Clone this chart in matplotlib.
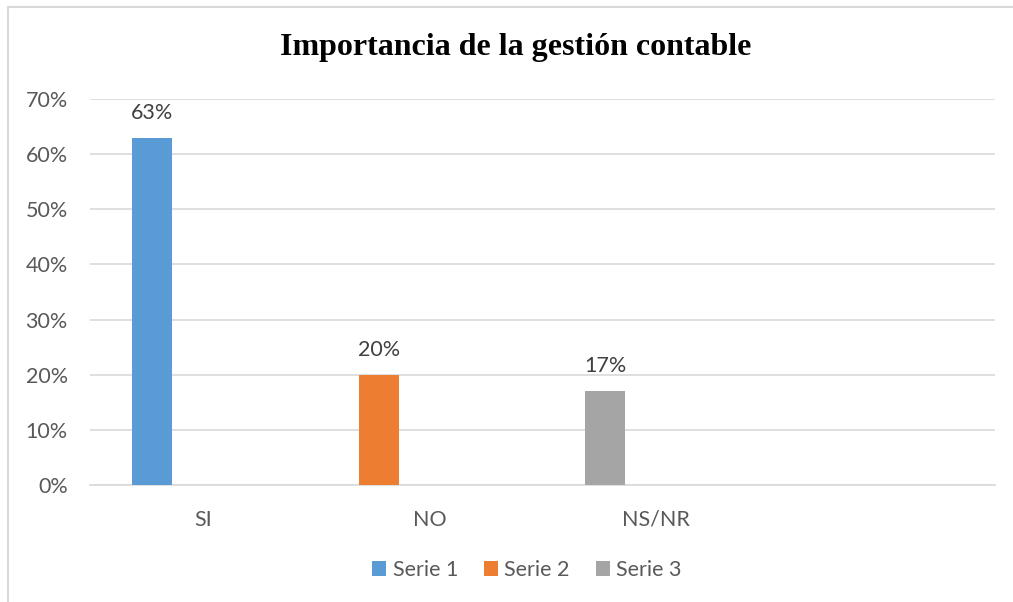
import matplotlib
matplotlib.use("Agg")
import matplotlib.pyplot as plt
from matplotlib.lines import Line2D
from matplotlib.patches import Patch

categories = ["SI", "NO", "NS/NR", ""]
series_names = ["Serie 1", "Serie 2", "Serie 3"]
series_cat = [0, 1, 2]
series_values = [0.63, 0.20, 0.17]
series_labels = ["63%", "20%", "17%"]
colors = ["#5B9BD5", "#ED7D31", "#A5A5A5"]
yticks = [0, 0.1, 0.2, 0.3, 0.4, 0.5, 0.6, 0.7]
ytick_labels = ["0%", "10%", "20%", "30%", "40%", "50%", "60%", "70%"]
title = "Importancia de la gestión contable"

W, H = 1013, 602
fig = plt.figure(figsize=(W / 100, H / 100), dpi=100)
txt = "#595959"
font = "Lato"
fs = 15.5

# chart border (left and top visible)
fig.lines.append(Line2D([8 / W, 8 / W], [0, 1 - 7 / H], transform=fig.transFigure,
                        color="#D9D9D9", linewidth=1.5))
fig.lines.append(Line2D([8 / W, 1012 / W], [1 - 7 / H, 1 - 7 / H], transform=fig.transFigure,
                        color="#D9D9D9", linewidth=1.5))

ax = fig.add_axes([90 / W, 1 - 485 / H, (995 - 90) / W, (485 - 99) / H])
ax.set_xlim(-0.5, 3.5)
ax.set_ylim(0, 0.7)

bw = 40 / 226.25
off = -0.224
for i in range(3):
    x = series_cat[i] + off
    ax.bar(x, series_values[i], width=bw, color=colors[i], zorder=3)
    ax.annotate(series_labels[i], (x, series_values[i]), xytext=(0, 25), textcoords="offset pixels",
                ha="center", va="center", fontsize=fs, color="#404040", family=font)

ax.set_yticks(yticks)
ax.set_yticklabels(ytick_labels, fontsize=fs, color=txt, family=font)
ax.set_xticks(range(4))
ax.set_xticklabels(categories, fontsize=fs, color=txt, family=font)
ax.tick_params(axis="y", length=0, pad=16)
ax.tick_params(axis="x", length=0, pad=18)
ax.grid(axis="y", color="#D9D9D9", linewidth=1.2, zorder=0)
for s in ["top", "right", "left"]:
    ax.spines[s].set_visible(False)
ax.spines["bottom"].set_color("#D9D9D9")
ax.spines["bottom"].set_linewidth(1.2)

fig.text(516 / W, 1 - 48 / H, title, ha="center", va="center", fontsize=23,
         fontweight="bold", family="Liberation Serif", color="black")

handles = [Patch(facecolor=c, edgecolor="none") for c in colors]
fig.legend(handles, series_names, loc="center", bbox_to_anchor=(527 / W, 1 - 570 / H), ncol=3,
           frameon=False, prop={"family": font, "size": fs}, labelcolor=txt,
           handlelength=0.65, handleheight=0.65, handletextpad=0.3, columnspacing=1.2)

fig.savefig("out.png", dpi=100)
